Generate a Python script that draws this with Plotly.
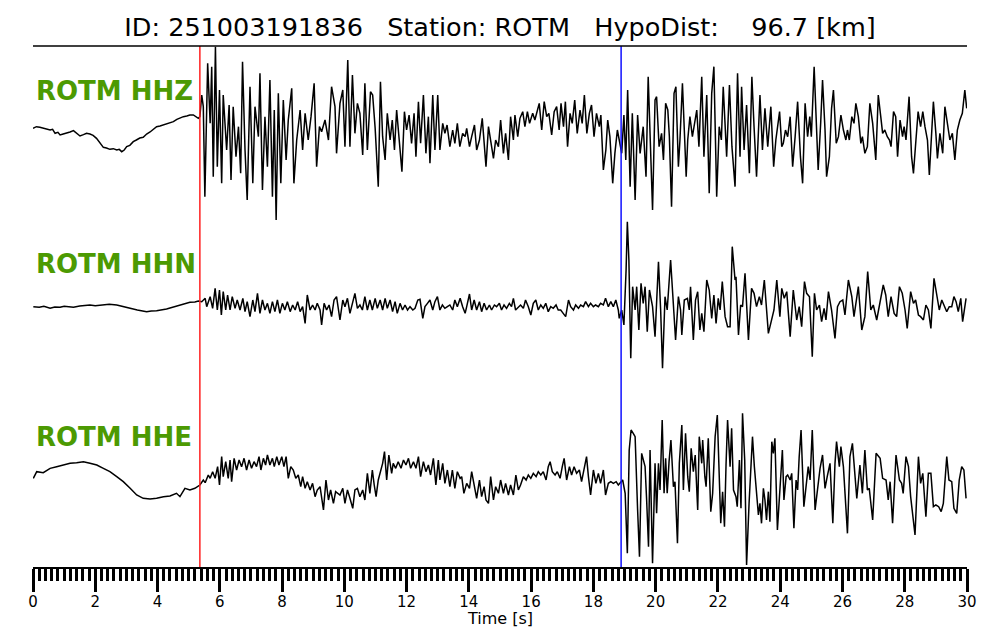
import plotly.graph_objects as go

# ---------------- data (time in s, amplitude in arbitrary counts) ----------------
hhz_t = [0.00, 0.11, 0.22, 0.33, 0.45, 0.55, 0.63, 0.71, 0.80, 0.87, 0.97, 1.08, 1.19, 1.30, 1.40, 1.51, 1.62, 1.72,
         1.83, 1.93, 2.04, 2.15, 2.26, 2.36, 2.47, 2.58, 2.69, 2.77, 2.85, 2.93, 3.01, 3.11, 3.22, 3.32, 3.43, 3.54,
         3.65, 3.76, 3.87, 3.97, 4.08, 4.19, 4.30, 4.40, 4.51, 4.62, 4.72, 4.83, 4.94, 5.04, 5.15, 5.25, 5.31,
         5.36, 5.42, 5.47, 5.52, 5.61, 5.69, 5.74, 5.79, 5.86, 5.92, 5.99, 6.06, 6.11, 6.22, 6.30, 6.36, 6.43, 6.52,
         6.60, 6.67, 6.73, 6.81, 6.88, 6.97, 7.06, 7.13, 7.24, 7.29, 7.37, 7.45, 7.53, 7.61, 7.69, 7.75, 7.81, 7.88,
         7.96, 8.04, 8.13, 8.20, 8.31, 8.38, 8.47, 8.58, 8.66, 8.74, 8.84, 8.93, 9.03, 9.11, 9.20, 9.27, 9.38, 9.49,
         9.59, 9.70, 9.75,
         9.86, 9.95, 10.02, 10.11, 10.18, 10.26, 10.34, 10.42, 10.50, 10.59, 10.66, 10.74, 10.84, 10.91, 10.99, 11.09,
         11.16, 11.23, 11.31, 11.38, 11.47, 11.54, 11.61, 11.68, 11.77, 11.85, 11.93, 12.00, 12.08, 12.16, 12.24,
         12.30, 12.38, 12.45, 12.54, 12.62, 12.70, 12.75, 12.84, 12.91, 13.00, 13.07, 13.16, 13.23, 13.30, 13.39,
         13.48, 13.55, 13.63, 13.71, 13.80, 13.88, 13.93, 14.02, 14.09, 14.18, 14.25, 14.34, 14.43, 14.50, 14.55,
         14.63, 14.70, 14.79, 14.86, 14.95, 15.02, 15.11, 15.18, 15.27, 15.34, 15.43, 15.48, 15.57, 15.64, 15.73,
         15.80, 15.88, 15.95, 16.05, 16.12, 16.20, 16.26, 16.34, 16.42, 16.50, 16.57, 16.66, 16.74, 16.82, 16.90,
         16.96, 17.04, 17.10, 17.17, 17.25, 17.32, 17.40, 17.48, 17.57, 17.64, 17.71, 17.79, 17.87, 17.94, 18.02,
         18.10, 18.19, 18.24, 18.32, 18.40, 18.46, 18.53, 18.62, 18.69, 18.77, 18.83, 18.91, 18.98, 19.04, 19.10,
         19.18, 19.25, 19.34, 19.42, 19.50, 19.60, 19.69, 19.76,
         19.90, 19.98, 20.03, 20.11, 20.19, 20.25, 20.32, 20.39, 20.44, 20.51, 20.59, 20.65, 20.73, 20.78, 20.86,
         20.92, 20.98, 21.03, 21.10, 21.18, 21.24, 21.32, 21.39, 21.48, 21.55, 21.64, 21.72, 21.80, 21.87, 21.96,
         22.04, 22.11, 22.17, 22.28, 22.37, 22.45, 22.55, 22.63, 22.71, 22.76, 22.84, 22.92, 23.01, 23.09, 23.16,
         23.24, 23.35, 23.43, 23.51, 23.60, 23.70, 23.79, 23.86, 23.98, 24.05, 24.10, 24.17, 24.24, 24.32, 24.40,
         24.48, 24.56, 24.65, 24.72, 24.80, 24.88, 24.95, 25.00, 25.09, 25.17, 25.22, 25.30, 25.36, 25.44, 25.49,
         25.58, 25.65, 25.71, 25.80, 25.87, 25.95, 26.03, 26.11, 26.16, 26.22, 26.30, 26.37, 26.43, 26.51, 26.59,
         26.64, 26.72, 26.80, 26.88, 26.97, 27.07, 27.15, 27.23, 27.29, 27.36, 27.44, 27.51, 27.56, 27.64, 27.71,
         27.77, 27.85, 27.93, 27.98, 28.04, 28.14, 28.22, 28.28, 28.36, 28.43, 28.51, 28.58, 28.65, 28.73, 28.79,
         28.87, 28.92, 29.00, 29.05, 29.13, 29.22, 29.29, 29.38, 29.45, 29.53, 29.61, 29.69, 29.77, 29.85, 29.93,
         29.99]
hhz_a = [-1, 4, 2, 0, -3, -6, -4, -16, -13, -21, -18, -16, -12, -8, -17, -24, -20, -16,
         -18, -22, -31, -44, -58, -60, -64, -62, -66, -64, -71, -66, -56, -52, -41, -36, -30, -28,
         -18, -12, -4, 4, 6, 9, 12, 16, 19, 26, 30, 34, 36, 39, 39, 34, 29,
         34, 99, 64, -206, 194, 14, 184, -146, 244, -116, 114, -166, 99, -66, 69, -156, 64, -86,
         4, -136, 199, -66, -216, 124, -166, 64, -26, 164, -186, 34, -116, 144, -206, 54, -276, 104,
         -166, 84, -96, 24, 119, -166, -36, 54, -66, 44, -36, 34, 134, -116, 4, -11, 24, -36,
         124, 64, -76,
         74, 114, -56, 204, -56, 159, -16, 74, 44, -81, 134, -66, 109, 99, -1, -176,
         139, -26, -96, 44, -36, 24, -66, 54, -56, -131, 49, -6, 39, -46, 44,
         -86, 79, -46, 99, -76, 34, -106, 99, -66, 99, -66, 14, -16, 9, -56,
         -6, -46, 14, -56, -16, -26, -1, -56, -26, 9, -66, -36, 29, -76, -116,
         4, -36, -91, -36, -56, 24, -76, -16, -96, 34, -36, 39, -26, 29, 49,
         4, 49, 14, 44, 24, 54, 74, -6, 79, 34, 44, -21, 49, 64, -6,
         74, 4, 79, -56, 44, 14, 84, -16, 54, 14, 99, -16, 44, 69, -26,
         44, 4, 39, -126, -66, 24, -26, -166, -76, -6, -36, -76, 39, -96, 114,
         -176, 44, -216, 39, -76, 4, -146, 154,
         -246, 84, 94, -56, -16, -96, 74, 54, -26, -236, 104, 124, -116, -36, 134,
         -6, -146, -36, 34, -26, 4, 54, -56, 154, -86, 99, -196, 104, 184, -206,
         4, -36, 124, -86, 129, -56, -176, 164, -86, 124, -66, 69, -136, 154, 4,
         -146, 99, -66, 59, -56, 64, -116, -36, 49, -56, -46, -6, -26, 34, -116,
         -26, 79, -86, -166, 74, -26, 34, -26, 184, -36, -126, 14, 144, -6, -146,
         -86, 59, 114, -46, -26, 39, -6, -36, -6, -36, 34, 14, 74, 34, -46,
         -26, -76, -56, 74, 14, -96, 99, 34, -16, -6, -26, -36, -56, 49, 34,
         -86, 24, -26, 4, -36, 94, -86, -136, -36, 49, 4, 49, 4, -36, -141,
         -16, 79, -16, -91, -16, -76, 64, -1, -36, -16, -96, -6, 24, 44, 114,
         59]

hhn_t = [0.01, 0.20, 0.35, 0.55, 0.70, 0.87, 1.00, 1.30, 1.50, 1.83, 2.00, 2.26, 2.45, 2.69, 2.90, 3.12, 3.35,
         3.65, 3.80, 3.97, 4.29, 4.50, 4.72, 4.90, 5.04, 5.20, 5.31,
         5.42, 5.53, 5.58, 5.69, 5.77, 5.85, 5.92, 5.99, 6.05, 6.11, 6.19, 6.25, 6.33, 6.40, 6.49, 6.56, 6.65, 6.74,
         6.81, 6.88, 6.97, 7.06, 7.13, 7.21, 7.29, 7.37, 7.45, 7.53, 7.61, 7.69, 7.77, 7.85, 7.93, 8.01, 8.09, 8.17,
         8.26, 8.34, 8.42, 8.50, 8.58, 8.66, 8.74, 8.81, 8.90, 8.98, 9.06, 9.13, 9.22, 9.27, 9.35, 9.43, 9.51, 9.59,
         9.67, 9.75,
         9.86, 9.95, 10.02, 10.10, 10.18, 10.26, 10.34, 10.42, 10.50, 10.58, 10.66, 10.74, 10.82, 10.90, 10.99,
         11.06, 11.15, 11.23, 11.31, 11.38, 11.47, 11.55, 11.63, 11.70, 11.79, 11.87, 11.95, 12.03, 12.11, 12.20,
         12.27, 12.36, 12.43, 12.52, 12.59, 12.67, 12.75, 12.84, 12.91, 12.99, 13.07, 13.15, 13.23, 13.31, 13.39,
         13.48, 13.55, 13.63, 13.72, 13.80, 13.88, 13.93, 14.02, 14.09, 14.17, 14.25, 14.34, 14.41, 14.49, 14.57,
         14.66, 14.73, 14.82, 14.89, 14.98, 15.05, 15.13, 15.21, 15.30, 15.37, 15.43, 15.50, 15.59, 15.66, 15.75,
         15.82, 15.91, 15.99, 16.07, 16.15, 16.23, 16.31, 16.39, 16.47, 16.55, 16.63, 16.71, 16.80, 16.87, 16.95,
         17.03, 17.11, 17.20, 17.27, 17.36, 17.43, 17.52, 17.59, 17.68, 17.75, 17.84, 17.91, 18.00, 18.07, 18.16,
         18.23, 18.32, 18.39, 18.48, 18.56, 18.64, 18.72, 18.80, 18.83, 18.91, 18.98, 19.05, 19.09, 19.14, 19.20,
         19.26, 19.34, 19.39, 19.46, 19.53, 19.60, 19.66, 19.73, 19.80,
         19.90, 19.98, 20.09, 20.16, 20.22, 20.30, 20.37, 20.48, 20.57, 20.64, 20.73, 20.80, 20.84, 20.92, 21.02,
         21.08, 21.12, 21.21, 21.28, 21.35, 21.42, 21.48, 21.55, 21.64, 21.72, 21.80, 21.87, 21.94, 22.01, 22.07,
         22.14, 22.23, 22.31, 22.39, 22.46, 22.55, 22.58, 22.66, 22.73, 22.79, 22.87, 22.98, 23.08, 23.16, 23.24,
         23.33, 23.40, 23.49, 23.62, 23.70, 23.80, 23.89, 23.99, 24.05, 24.13, 24.21, 24.32, 24.42, 24.53, 24.61,
         24.69, 24.78, 24.85, 24.94, 25.03, 25.10, 25.17, 25.26, 25.33, 25.41, 25.47, 25.55, 25.65, 25.76, 25.84,
         25.92, 26.01, 26.08, 26.19, 26.30, 26.37, 26.51, 26.62, 26.72, 26.81, 26.91, 26.99, 27.10, 27.21, 27.31,
         27.39, 27.47, 27.56, 27.66, 27.74, 27.83, 27.92, 28.01, 28.08, 28.19, 28.28, 28.35, 28.44, 28.51, 28.60,
         28.68, 28.76, 28.84, 28.94, 29.03, 29.11, 29.19, 29.26, 29.35, 29.43, 29.51, 29.58, 29.65, 29.72, 29.80,
         29.86, 29.97]
hhn_a = [0, -2, 1, -5, -1, -2, 1, -2, 2, 5, 3, 5, 7, 5, -1, -5, -10,
         -15, -13, -12, -7, -2, 5, 9, 13, 14, 17,
         15, 25, 0, 30, -5, 55, -10, 50, -25, 45, -10, 35, -10, 30, -5, 20, -10, 25,
         -15, 15, -30, 20, -15, 40, -20, 20, -10, 10, -20, 15, -15, 20, -20, 10, -10, 15,
         -15, 5, -10, 15, -15, 0, -50, 35, -10, 5, -10, 10, -10, -55, 10, -10, 5, -30,
         20, 30,
         -40, 20, 0, 25, -20, 15, 40, -5, 5, -10, 30, -10, 20, -10, 25,
         -5, 20, -10, 25, -5, 20, -15, 15, -20, 10, -10, 5, -10, 0, -10,
         -5, 20, 22, -35, 0, 10, 20, -10, 15, 30, -10, 5, -5, 0, 5,
         -10, 20, 0, 25, 0, -20, 0, 38, -10, 20, -10, 15, -15, 10, -10,
         5, -10, 5, 0, 10, -10, 5, -5, 10, 0, 25, -10, 0, 5, -5,
         20, 0, -25, 10, 20, -10, 5, -5, 10, -15, 0, -5, 5, -10, -10,
         -20, -30, 20, 0, -10, 5, -5, 5, 0, 15, 0, 10, 0, 5, 0,
         10, 5, 25, 0, 15, 0, 20, -10, -35, -10, -55, 110, 255, 140, -155,
         60, -10, 60, -70, 70, 10, 60, -75, 50,
         0, -90, 135, -10, -185, 30, -10, 140, -10, -100, 30, -10, -85, 20, 25,
         -10, 60, -100, 20, 45, -70, -20, -75, 80, 50, -35, 35, -50, 25, -10,
         75, -30, -60, -60, 180, 80, 90, -85, 5, 0, 100, -100, 55, 40, 0,
         30, 5, 80, -80, -50, -10, 80, -30, 55, 25, 45, -90, 50, -40, 0,
         -60, 75, 40, 30, -150, 40, -10, 5, -45, -5, -40, 45, -10, -95, 0,
         15, 20, -25, 80, 30, -30, 60, -70, -30, 105, -10, 5, -40, 10, 65,
         35, -30, 30, -20, -30, 60, 40, -10, -65, 45, 10, 20, -25, -30, -40,
         5, -10, -65, 85, 30, -10, 20, 5, -15, 0, 0, 30, 15, -15, 25,
         -45, 25]

hhe_t = [0.01, 0.12, 0.33, 0.55, 0.76, 0.97, 1.19, 1.40, 1.62, 1.83, 2.05, 2.26, 2.47, 2.69, 2.90, 3.12, 3.33,
         3.54, 3.76, 3.97, 4.19, 4.40, 4.61, 4.72, 4.88, 5.04, 5.20, 5.36,
         5.47, 5.53, 5.63, 5.69, 5.77, 5.85, 5.93, 5.99, 6.06, 6.11, 6.19, 6.27, 6.33, 6.38, 6.46, 6.54, 6.62, 6.70,
         6.78, 6.86, 6.94, 7.02, 7.10, 7.18, 7.26, 7.32, 7.40, 7.47, 7.53, 7.61, 7.69, 7.75, 7.83, 7.90, 7.99, 8.06,
         8.13, 8.20, 8.28, 8.36, 8.44, 8.52, 8.60, 8.66, 8.74, 8.81, 8.90, 8.98, 9.06, 9.13, 9.22, 9.33, 9.41, 9.49,
         9.56, 9.65, 9.72,
         9.86, 9.95, 10.02, 10.10, 10.18, 10.27, 10.34, 10.42, 10.50, 10.59, 10.66, 10.74, 10.82, 10.90, 10.96,
         11.02, 11.09, 11.17, 11.23, 11.29, 11.36, 11.43, 11.52, 11.57, 11.65, 11.73, 11.82, 11.90, 11.98, 12.06,
         12.13, 12.22, 12.30, 12.38, 12.45, 12.54, 12.62, 12.70, 12.77, 12.86, 12.94, 13.02, 13.07, 13.16, 13.23,
         13.31, 13.39, 13.47, 13.55, 13.63, 13.72, 13.77, 13.84, 13.93, 14.02, 14.09, 14.17, 14.25, 14.34, 14.41,
         14.49, 14.55, 14.63, 14.70, 14.79, 14.86, 14.95, 15.02, 15.11, 15.18, 15.27, 15.34, 15.43, 15.51, 15.59,
         15.66, 15.75, 15.84, 15.91, 15.99, 16.07, 16.16, 16.23, 16.31, 16.39, 16.48, 16.55, 16.61, 16.68, 16.77,
         16.84, 16.93, 17.00, 17.06, 17.14, 17.23, 17.30, 17.38, 17.46, 17.55, 17.62, 17.71, 17.78, 17.84, 17.91,
         18.00, 18.08, 18.16, 18.23, 18.32, 18.39, 18.48, 18.56, 18.64, 18.73, 18.80, 18.89, 18.94, 19.02, 19.09,
         19.15, 19.21, 19.28, 19.34, 19.42, 19.48, 19.55, 19.60, 19.66, 19.71, 19.77,
         19.82, 19.90, 19.98, 20.03, 20.09, 20.14, 20.21, 20.27, 20.32, 20.37, 20.43, 20.49, 20.57, 20.62, 20.70,
         20.76, 20.84, 20.89, 20.96, 21.03, 21.08, 21.14, 21.21, 21.27, 21.35, 21.40, 21.48, 21.51, 21.58, 21.62,
         21.69, 21.77, 21.83, 21.91, 21.98, 22.03, 22.09, 22.15, 22.21, 22.26, 22.31, 22.39, 22.44, 22.50, 22.58,
         22.62, 22.69, 22.74, 22.79, 22.86, 22.92, 23.00, 23.05, 23.11, 23.17, 23.24, 23.30, 23.35, 23.40, 23.46,
         23.51, 23.56, 23.62, 23.67, 23.73, 23.78, 23.83, 23.91, 23.99, 24.07, 24.12, 24.19, 24.24, 24.32, 24.37,
         24.44, 24.51, 24.56, 24.61, 24.67, 24.76, 24.83, 24.90, 24.96, 25.03, 25.12, 25.20, 25.28, 25.36, 25.44,
         25.51, 25.60, 25.69, 25.76, 25.81, 25.90, 25.95, 26.03, 26.16, 26.24, 26.32, 26.38, 26.46, 26.56, 26.64,
         26.72, 26.80, 26.86, 26.97, 27.08, 27.21, 27.29, 27.40, 27.47, 27.53, 27.61, 27.72, 27.83, 27.90, 27.95,
         28.04, 28.12, 28.19, 28.33, 28.44, 28.51, 28.58, 28.68, 28.76, 28.84, 28.92, 29.00, 29.09, 29.17, 29.24,
         29.35, 29.42, 29.51, 29.58, 29.67, 29.75, 29.83, 29.90, 29.97]
hhe_a = [5, 25, 22, 35, 40, 45, 50, 52, 55, 50, 45, 35, 25, 10, -5, -25, -45,
         -55, -57, -55, -50, -48, -40, -50, -25, -30, -25, -15,
         0, -8, 15, 5, 25, 5, 40, -15, 70, 10, 55, 5, 60, -5, 65, 30, 60, 40,
         65, 30, 60, 35, 55, 40, 70, 30, 65, 45, 75, 45, 65, 40, 70, 45, 70, 40,
         70, 5, 40, 30, 5, 15, -20, 10, -25, -5, -30, -10, -50, -30, -20, -90, 0, -60,
         -30, -70, -35,
         -45, -25, -70, -30, -55, -85, -30, -25, -50, -30, -60, 20, -40, 30, -15,
         -50, 0, 25, 50, 85, 0, 75, 20, 50, 35, 55, 35, 60, 45, 65,
         35, 55, 35, 70, 10, 55, 25, 45, 15, 65, -15, 60, 0, 50, -10,
         30, -20, 30, -25, 25, 5, 10, -40, -10, -25, 25, -20, -55, 0, -50,
         -20, -60, -70, 10, -60, -20, -40, 0, -40, -10, -45, -15, -45, 15, -30,
         -15, 10, 0, 15, 5, 20, 10, 25, 15, 25, 0, 40, 55, 25, 15,
         25, 5, 40, 65, 0, 40, 15, 40, 20, 30, -5, 40, 70, 10, -45,
         30, -10, 20, -10, 30, -45, -10, -5, -10, -5, -15, -5, 0, -40, -220,
         90, 150, 140, 130, -90, -230, 80, 60, 40, -60, -200,
         90, -250, 50, -100, 50, -30, 180, -40, 65, -40, 55, 120, -20, -5, -190,
         50, 165, -30, 140, 10, -35, 95, 25, 75, -90, 130, 50, 120, 10, -20,
         125, -95, -40, 130, 195, 10, -130, -35, -140, 45, 180, 40, 155, -30, -50,
         -80, 60, -85, 200, 60, -255, -70, 40, 130, 40, -50, -105, -70, -130, -25,
         -60, -120, -35, -125, 115, 80, 125, -150, -30, 90, -60, 10, 15, 0, 20,
         -145, 0, -30, 70, 150, -80, -20, 40, 0, 150, -90, -20, 35, 75, -25,
         10, 50, -130, 50, 115, 40, 100, 40, -160, 70, 110, 40, -55, 45, -40,
         90, -30, -25, -120, 80, 65, 5, 0, -60, -5, -130, 75, 0, -10, -40,
         70, 40, -50, -165, 70, -10, 20, -110, 20, 20, -80, -75, -80, -95, -70,
         70, 0, -5, -85, -100, 0, 40, 30, -55]

channel_labels = ["ROTM HHZ", "ROTM HHN", "ROTM HHE"]
p_pick = 5.36   # s
s_pick = 18.89  # s
title_text = ("ID: 251003191836\u00a0\u00a0 Station: ROTM\u00a0\u00a0 "
              "HypoDist:\u00a0\u00a0\u00a0 96.7 [km]")

# ---------------- figure ----------------
fig = go.Figure()
line_style = dict(color="black", width=1.5)
fig.add_trace(go.Scatter(x=hhz_t, y=hhz_a, mode="lines", line=line_style, yaxis="y", showlegend=False))
fig.add_trace(go.Scatter(x=hhn_t, y=hhn_a, mode="lines", line=line_style, yaxis="y2", showlegend=False))
fig.add_trace(go.Scatter(x=hhe_t, y=hhe_a, mode="lines", line=line_style, yaxis="y3", showlegend=False))

green = "#4c9a02"
label_y = [0.913, 0.582, 0.2495]
for lab, yy in zip(channel_labels, label_y):
    fig.add_annotation(text=f"<b>{lab}</b>", xref="paper", yref="paper", x=0, y=yy, xshift=1,
                       xanchor="left", yanchor="middle", showarrow=False,
                       font=dict(family="DejaVu Sans", size=26, color=green))

fig.add_annotation(text="Time [s]", xref="paper", yref="paper", x=0.5, y=0, yshift=-51,
                   xanchor="center", yanchor="middle", showarrow=False,
                   font=dict(family="DejaVu Sans", size=16, color="black"))

fig.add_shape(type="line", xref="x", yref="paper", x0=p_pick, x1=p_pick, y0=0, y1=1,
              line=dict(color="#ff2020", width=1.5))
fig.add_shape(type="line", xref="x", yref="paper", x0=s_pick, x1=s_pick, y0=0, y1=1,
              line=dict(color="#1010ff", width=1.5))
fig.add_shape(type="line", xref="paper", yref="paper", x0=0, x1=1, y0=1, y1=1,
              line=dict(color="black", width=1.5))

fig.update_layout(
    width=1000, height=640, autosize=False,
    margin=dict(l=33, r=33, t=46, b=73),
    paper_bgcolor="white", plot_bgcolor="white",
    font=dict(family="DejaVu Sans", color="black"),
    title=dict(text=title_text, x=0.5, xanchor="center", y=1 - 27 / 640, yanchor="middle",
               font=dict(family="DejaVu Sans", size=25.5, color="black")),
    xaxis=dict(range=[0, 30], showgrid=False, zeroline=False, showline=True, linecolor="black",
               linewidth=2, ticks="outside", ticklen=23, tickwidth=2.5, tickcolor="black",
               tick0=0, dtick=2, tickfont=dict(size=15), ticklabelstandoff=-3,
               minor=dict(ticks="outside", dtick=0.2, tick0=0, ticklen=12, tickwidth=2.5,
                          tickcolor="black", showgrid=False)),
    yaxis=dict(range=[-1317, 246], visible=False, fixedrange=True),
    yaxis2=dict(range=[-781, 782], visible=False, overlaying="y"),
    yaxis3=dict(range=[-261, 1302], visible=False, overlaying="y"),
)

fig.write_html("out.html", config={"displayModeBar": False},
               post_script="document.body.style.margin='0px';document.body.style.padding='0px';")
